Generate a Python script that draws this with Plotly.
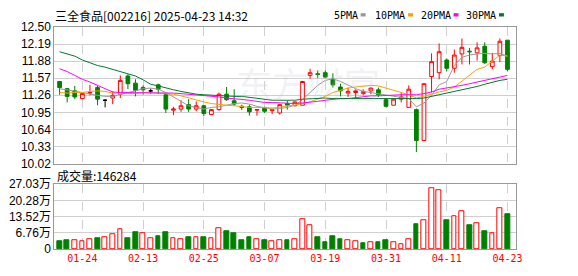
import plotly.graph_objects as go

# ---------------- data ----------------
dates = ["01-21", "01-22", "01-23", "01-24", "01-27", "02-05", "02-06", "02-07", "02-10", "02-11",
         "02-12", "02-13", "02-14", "02-17", "02-18", "02-19", "02-20", "02-21", "02-24", "02-25",
         "02-26", "02-27", "02-28", "03-03", "03-04", "03-05", "03-06", "03-07", "03-10", "03-11",
         "03-12", "03-13", "03-14", "03-17", "03-18", "03-19", "03-20", "03-21", "03-24", "03-25",
         "03-26", "03-27", "03-28", "03-31", "04-01", "04-02", "04-03", "04-07", "04-08", "04-09",
         "04-10", "04-11", "04-14", "04-15", "04-16", "04-17", "04-18", "04-21", "04-22", "04-23"]

opens = [11.51, 11.38, 11.34, 11.20, 11.30, 11.40, 11.17, 11.21, 11.28, 11.61,
         11.48, 11.40, 11.34, 11.45, 11.27, 10.99, 11.01, 11.09, 11.01, 11.07,
         10.91, 11.00, 11.28, 11.16, 11.06, 11.05, 10.99, 11.04, 10.98, 10.94,
         11.11, 11.07, 11.08, 11.62, 11.65, 11.67, 11.55, 11.41, 11.30, 11.31,
         11.29, 11.34, 11.36, 11.18, 11.08, 11.19, 11.04, 11.00, 10.44, 11.60,
         11.67, 11.90, 11.75, 12.01, 12.06, 12.03, 12.15, 11.78, 11.98, 12.26]
highs = [11.52, 11.39, 11.43, 11.30, 11.45, 11.43, 11.19, 11.33, 11.62, 11.64,
         11.55, 11.44, 11.38, 11.47, 11.29, 11.05, 11.17, 11.19, 11.15, 11.08,
         11.00, 11.31, 11.41, 11.37, 11.09, 11.09, 11.01, 11.05, 11.01, 11.10,
         11.16, 11.15, 11.52, 11.74, 11.71, 11.71, 11.66, 11.47, 11.40, 11.37,
         11.37, 11.40, 11.40, 11.21, 11.20, 11.30, 11.44, 11.02, 11.48, 12.02,
         12.20, 11.93, 12.09, 12.29, 12.12, 12.22, 12.22, 12.03, 12.29, 12.26]
lows = [11.27, 11.13, 11.19, 11.19, 11.26, 11.08, 11.04, 11.10, 11.21, 11.37,
        11.24, 11.27, 11.29, 11.28, 10.94, 10.90, 10.96, 10.96, 10.97, 10.88,
        10.91, 10.98, 11.16, 11.07, 10.99, 10.89, 10.89, 10.94, 10.92, 10.91,
        11.00, 11.06, 11.08, 11.56, 11.57, 11.57, 11.40, 11.24, 11.23, 11.21,
        11.26, 11.28, 11.23, 11.04, 11.08, 11.13, 11.04, 10.23, 10.44, 11.31,
        11.55, 11.70, 11.67, 11.82, 11.82, 11.89, 11.83, 11.73, 11.86, 11.70]
closes = [11.40, 11.24, 11.23, 11.29, 11.31, 11.19, 11.17, 11.26, 11.53, 11.47,
          11.35, 11.36, 11.34, 11.37, 11.01, 11.01, 11.07, 11.01, 11.07, 10.93,
          11.00, 11.28, 11.18, 11.10, 11.04, 10.96, 11.00, 10.97, 11.00, 11.09,
          11.08, 11.14, 11.51, 11.67, 11.64, 11.59, 11.45, 11.34, 11.33, 11.34,
          11.33, 11.39, 11.27, 11.06, 11.19, 11.23, 11.37, 10.44, 11.47, 11.87,
          12.05, 11.75, 11.99, 12.13, 12.05, 12.12, 11.85, 11.88, 12.24, 11.73]

# volume in lots (手)
volumes = [33000, 37000, 36000, 32000, 40000, 45000, 48000, 60000, 83000, 45000,
           69000, 64000, 44000, 53000, 69000, 44000, 40000, 49000, 48000, 49000,
           44000, 87000, 73000, 64000, 37000, 48000, 40000, 37000, 32000, 36000,
           37000, 40000, 123000, 99000, 49000, 29000, 53000, 41000, 36000, 32000,
           25000, 28000, 29000, 37000, 28000, 20000, 40000, 105000, 119000, 254000,
           244000, 121000, 135000, 159000, 101000, 107000, 73000, 68000, 171000, 146284]
# 1 = red (up) volume bar, 0 = green (down)
vol_up = [0, 0, 1, 1, 1, 0, 1, 1, 1, 0,
          0, 1, 1, 0, 0, 1, 1, 0, 1, 0,
          1, 1, 0, 0, 0, 0, 1, 0, 1, 1,
          0, 1, 1, 1, 0, 0, 0, 0, 1, 1,
          0, 1, 0, 0, 1, 1, 1, 0, 1, 1,
          1, 0, 1, 1, 0, 1, 0, 1, 1, 0]

ma5 = [11.38, 11.36, 11.33, 11.31, 11.28, 11.26, 11.24, 11.24, 11.28, 11.31,
       11.34, 11.38, 11.39, 11.37, 11.31, 11.23, 11.15, 11.07, 11.04, 11.01,
       11.04, 11.05, 11.08, 11.11, 11.12, 11.10, 11.06, 11.03, 11.01, 11.02,
       11.04, 11.08, 11.18, 11.31, 11.44, 11.53, 11.56, 11.51, 11.44, 11.38,
       11.33, 11.31, 11.29, 11.27, 11.24, 11.23, 11.20, 11.05, 11.12, 11.26,
       11.45, 11.51, 11.80, 11.95, 11.99, 12.01, 12.02, 12.01, 12.02, 11.97]
ma10 = [11.31, 11.30, 11.31, 11.31, 11.33, 11.34, 11.33, 11.30, 11.30, 11.29,
        11.29, 11.31, 11.31, 11.30, 11.29, 11.28, 11.25, 11.21, 11.18, 11.14,
        11.11, 11.09, 11.08, 11.07, 11.05, 11.04, 11.04, 11.03, 11.03, 11.04,
        11.07, 11.08, 11.11, 11.14, 11.19, 11.24, 11.31, 11.35, 11.39, 11.41,
        11.43, 11.44, 11.43, 11.39, 11.35, 11.31, 11.27, 11.21, 11.24, 11.28,
        11.32, 11.35, 11.41, 11.52, 11.63, 11.73, 11.77, 11.88, 11.99, 11.97]
ma20 = [11.74, 11.69, 11.62, 11.55, 11.50, 11.44, 11.38, 11.32, 11.31, 11.31,
        11.31, 11.31, 11.31, 11.31, 11.30, 11.30, 11.29, 11.28, 11.27, 11.25,
        11.24, 11.23, 11.21, 11.20, 11.19, 11.17, 11.15, 11.13, 11.13, 11.12,
        11.12, 11.11, 11.12, 11.13, 11.15, 11.17, 11.19, 11.20, 11.20, 11.22,
        11.24, 11.25, 11.25, 11.26, 11.27, 11.27, 11.27, 11.27, 11.29, 11.32,
        11.37, 11.39, 11.42, 11.44, 11.47, 11.50, 11.53, 11.56, 11.60, 11.62]
ma30 = [12.05, 12.01, 11.97, 11.90, 11.85, 11.80, 11.77, 11.73, 11.70, 11.66,
        11.61, 11.54, 11.46, 11.43, 11.39, 11.36, 11.33, 11.30, 11.28, 11.27,
        11.26, 11.25, 11.25, 11.24, 11.24, 11.22, 11.20, 11.18, 11.17, 11.17,
        11.17, 11.17, 11.19, 11.20, 11.20, 11.21, 11.20, 11.20, 11.20, 11.20,
        11.20, 11.19, 11.19, 11.19, 11.19, 11.19, 11.19, 11.20, 11.21, 11.24,
        11.27, 11.30, 11.33, 11.35, 11.39, 11.42, 11.46, 11.50, 11.53, 11.55]

tick_dates = ["01-24", "02-13", "02-25", "03-07", "03-19", "03-31", "04-11", "04-23"]
price_ticks = [10.02, 10.33, 10.64, 10.95, 11.26, 11.57, 11.88, 12.19, 12.50]
vol_ticks = [0, 67575, 135150, 202725, 270300]
vol_tick_text = ["0", "6.76万", "13.52万", "20.28万", "27.03万"]

title_text = "三全食品[002216] 2025-04-23 14:32"
vol_label = "成交量:146284"
ma_names = ["5PMA", "10PMA", "20PMA", "30PMA"]
ma_colors = ["#999999", "#F5A300", "#FF00FF", "#007A2E"]

# ---------------- styling ----------------
W, H = 578, 276
RED, GREEN = "#FF0000", "#008000"
GRID = "#D0D0D0"
BORDER = "#999999"

def fx(p):
    return p / W

def fy(p):
    return 1 - p / H

x_dom = [fx(55), fx(522)]
fig = go.Figure()

doji = [o == c for o, c in zip(opens, closes)]
def pick(arr, keep):
    return [v if k else None for v, k in zip(arr, keep)]

normal = [not d for d in doji]
fig.add_trace(go.Candlestick(
    x=dates, open=pick(opens, normal), high=pick(highs, normal),
    low=pick(lows, normal), close=pick(closes, normal),
    increasing=dict(line=dict(color=RED, width=1), fillcolor="white"),
    decreasing=dict(line=dict(color=GREEN, width=1), fillcolor=GREEN),
    whiskerwidth=0, xaxis="x", yaxis="y", hoverinfo="skip", showlegend=False))
fig.add_trace(go.Candlestick(
    x=dates, open=pick(opens, doji), high=pick(highs, doji),
    low=pick(lows, doji), close=pick(closes, doji),
    increasing=dict(line=dict(color="black", width=1), fillcolor="black"),
    decreasing=dict(line=dict(color="black", width=1), fillcolor="black"),
    whiskerwidth=0, xaxis="x", yaxis="y", hoverinfo="skip", showlegend=False))

for vals, col in zip([ma5, ma10, ma20, ma30], ma_colors):
    fig.add_trace(go.Scatter(x=dates, y=vals, mode="lines",
                             line=dict(color=col, width=1),
                             xaxis="x", yaxis="y", hoverinfo="skip", showlegend=False))

fig.add_trace(go.Bar(
    x=dates, y=volumes,
    marker=dict(color=["white" if u else GREEN for u in vol_up],
                line=dict(color=[RED if u else GREEN for u in vol_up], width=1)),
    width=0.62, xaxis="x2", yaxis="y2", hoverinfo="skip", showlegend=False))

axis_common = dict(showline=True, mirror=True, linecolor=BORDER, linewidth=1,
                   zeroline=False, ticks="", fixedrange=True)

fig.update_layout(
    width=W, height=H, margin=dict(l=0, r=0, t=0, b=0),
    paper_bgcolor="white", plot_bgcolor="white",
    showlegend=False, bargap=0,
    xaxis=dict(domain=x_dom, anchor="y", type="category", categoryorder="array",
               categoryarray=dates, range=[-0.69, 60.08],
               tickvals=tick_dates, showticklabels=False,
               showgrid=True, gridcolor=GRID, griddash="dash", gridwidth=1,
               rangeslider=dict(visible=False), **axis_common),
    yaxis=dict(domain=[fy(165), fy(21)], anchor="x", range=[10.02, 12.50],
               tickvals=price_ticks, ticktext=[f"{v:.2f}" for v in price_ticks],
               showgrid=True, gridcolor=GRID, gridwidth=1,
               tickfont=dict(family="Liberation Sans, Arial", size=12, color="#000000"),
               **axis_common),
    xaxis2=dict(domain=x_dom, anchor="y2", type="category", categoryorder="array",
                categoryarray=dates, range=[-0.69, 60.08], matches="x",
                tickvals=tick_dates, ticktext=tick_dates, showticklabels=True,
                tickfont=dict(family="DejaVu Sans Mono", size=10, color=RED),
                showgrid=True, gridcolor=GRID, griddash="dash", gridwidth=1,
                **axis_common),
    yaxis2=dict(domain=[fy(255), fy(186.7)], anchor="x2", range=[0, 270300],
                tickvals=vol_ticks, ticktext=vol_tick_text,
                showgrid=True, gridcolor=GRID, gridwidth=1,
                tickfont=dict(family="Liberation Sans, Arial, Noto Sans CJK SC", size=12, color="#000000"),
                **axis_common),
)

annotations = [
    dict(text=title_text, x=fx(54), y=fy(9), xref="paper", yref="paper",
         xanchor="left", yanchor="middle", showarrow=False,
         font=dict(family="Noto Sans CJK SC", size=12, color="#000000")),
    dict(text=vol_label, x=fx(56), y=fy(177.5), xref="paper", yref="paper",
         xanchor="left", yanchor="middle", showarrow=False,
         font=dict(family="Noto Sans CJK SC", size=12, color="#000000")),
    dict(text="东方财富", x=fx(312), y=fy(80), xref="paper", yref="paper",
         xanchor="center", yanchor="middle", showarrow=False,
         font=dict(family="Noto Sans CJK SC", size=36, color="rgba(190,190,205,0.2)")),
]
legend_x = [338, 380, 426, 472]
shapes = []
for name, col, lx in zip(ma_names, ma_colors, legend_x):
    annotations.append(dict(text=name, x=fx(lx - 2), y=fy(8.5), xref="paper", yref="paper",
                            xanchor="left", yanchor="middle", showarrow=False,
                            font=dict(family="DejaVu Sans Mono", size=10, color="#000000")))
    sx = lx + len(name) * 6.02 + 3
    shapes.append(dict(type="rect", xref="paper", yref="paper",
                       x0=fx(sx), x1=fx(sx + 5), y0=fy(10), y1=fy(6.5),
                       fillcolor=col, line=dict(width=0)))
fig.update_layout(annotations=annotations, shapes=shapes)

fig.write_html("out.html")
